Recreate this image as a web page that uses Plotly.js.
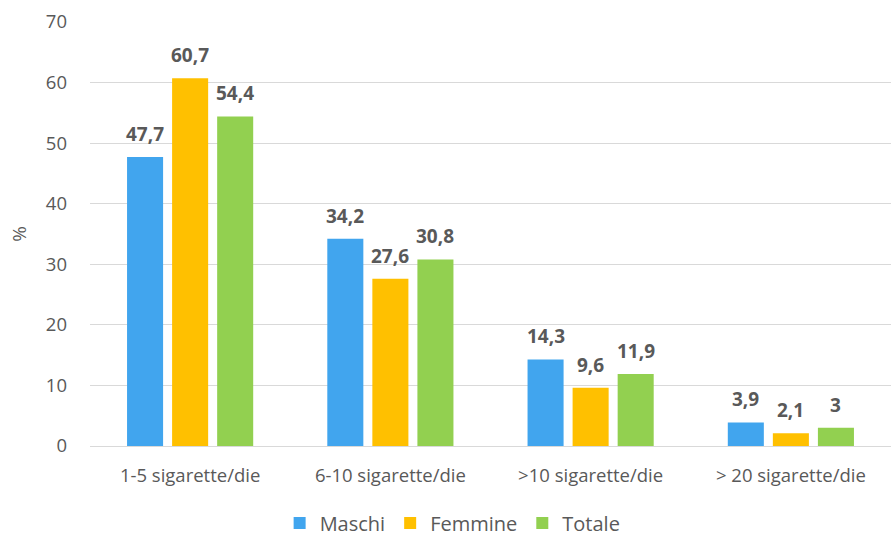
<!DOCTYPE html>
<html>
<head>
<meta charset="utf-8">
<script src="https://cdn.plot.ly/plotly-3.0.1.min.js"></script>
<style>html,body{margin:0;padding:0;background:#fff;}</style>
</head>
<body>
<div id="chart" style="width:891px;height:538px;"></div>
<script>
const categories = ["1-5 sigarette/die", "6-10 sigarette/die", ">10 sigarette/die", "> 20 sigarette/die"];
const maschi = [47.7, 34.2, 14.3, 3.9];
const femmine = [60.7, 27.6, 9.6, 2.1];
const totale = [54.4, 30.8, 11.9, 3];
const seriesNames = ["Maschi", "Femmine", "Totale"];
const colors = ["#41A5EE", "#FFC000", "#92D050"];

const W = 891, H = 538;
const M = {l: 90, r: 0, t: 22, b: 92};
const BARGAP = 0.325;

const fmt = v => String(v).replace('.', ',');
const allSeries = [maschi, femmine, totale];
const traces = allSeries.map((vals, i) => ({
  type: 'bar',
  name: seriesNames[i],
  x: categories,
  y: vals,
  marker: {color: colors[i]},
  hoverinfo: 'none'
}));

// data labels as annotations, placed at each bar's value via the axes
const catWidth = (W - M.l - M.r) / categories.length;
const slot = catWidth * (1 - BARGAP) / allSeries.length;
const annotations = [];
allSeries.forEach((vals, i) => {
  vals.forEach((v, j) => {
    annotations.push({
      x: categories[j], y: v, xref: 'x', yref: 'y',
      text: '<b>' + fmt(v) + '</b>',
      showarrow: false,
      xanchor: 'center', yanchor: 'bottom',
      xshift: (i - 1) * slot,
      yshift: 8,
      font: {family: 'Open Sans, sans-serif', size: 19, color: '#595959'}
    });
  });
});

const layout = {
  width: W, height: H,
  margin: M,
  barmode: 'group',
  bargap: BARGAP,
  bargroupgap: 0.2,
  paper_bgcolor: '#fff',
  plot_bgcolor: '#fff',
  font: {family: 'Open Sans, sans-serif', color: '#595959'},
  annotations: annotations,
  xaxis: {
    type: 'category',
    automargin: false,
    showline: false,
    ticks: '',
    ticklabelstandoff: 16,
    tickfont: {size: 18.5, color: '#595959'},
    showgrid: false,
    zeroline: false
  },
  yaxis: {
    range: [0, 70],
    dtick: 10,
    automargin: false,
    showgrid: true,
    gridcolor: '#d9d9d9',
    gridwidth: 1,
    zeroline: true,
    zerolinecolor: '#d9d9d9',
    zerolinewidth: 1,
    showline: false,
    ticks: '',
    ticklabelstandoff: 22,
    tickfont: {size: 18.5, color: '#595959'},
    title: {text: '%', font: {size: 19, color: '#595959'}, standoff: 14}
  },
  legend: {
    orientation: 'h',
    x: 0.508, xanchor: 'center', xref: 'container',
    y: 0.028, yanchor: 'middle', yref: 'container',
    font: {size: 20, color: '#595959'},
    itemwidth: 30
  },
  showlegend: true
};

Plotly.newPlot('chart', traces, layout, {displayModeBar: false, staticPlot: true});
</script>
</body>
</html>
